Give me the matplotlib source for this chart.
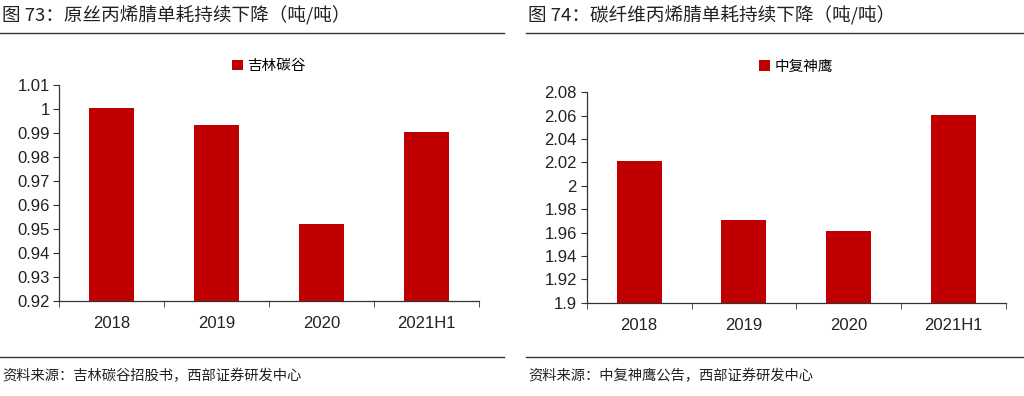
import matplotlib
matplotlib.use("Agg")
import matplotlib.pyplot as plt
from matplotlib.ticker import FuncFormatter, MultipleLocator, FixedLocator
from matplotlib.lines import Line2D

plt.rcParams['font.family'] = ['Liberation Sans', 'Noto Sans CJK SC', 'DejaVu Sans']

categories = ["2018", "2019", "2020", "2021H1"]
jilin_values = [1.0005, 0.9935, 0.952, 0.9905]
zhongfu_values = [2.021, 1.971, 1.961, 2.061]

left_title = "图 73：原丝丙烯腈单耗持续下降（吨/吨）"
right_title = "图 74：碳纤维丙烯腈单耗持续下降（吨/吨）"
left_series = "吉林碳谷"
right_series = "中复神鹰"
left_source = "资料来源：吉林碳谷招股书，西部证券研发中心"
right_source = "资料来源：中复神鹰公告，西部证券研发中心"

BAR = "#C00000"
W, H = 1024, 396
fig = plt.figure(figsize=(W / 100, H / 100), dpi=100)

def fx(px):
    return px / W

def fy(py):
    return 1 - py / H

def panel(rect, values, ylim, step, series, title, source, title_x, line_x0, line_x1, legend_y):
    ax = fig.add_axes(rect)
    x = range(len(categories))
    ax.bar(x, values, width=0.43, color=BAR, label=series, zorder=2)
    ax.set_ylim(*ylim)
    ax.set_xlim(-0.5, len(categories) - 0.5)
    ax.yaxis.set_major_locator(MultipleLocator(step))
    ax.yaxis.set_major_formatter(FuncFormatter(lambda v, p: f"{round(v, 4):g}"))
    ax.set_xticks(list(x))
    ax.set_xticklabels(categories)
    ax.xaxis.set_minor_locator(FixedLocator([i + 0.5 for i in range(-1, len(categories))]))
    ax.tick_params(axis='x', which='major', length=0, pad=11, labelsize=12, colors='#222222')
    ax.tick_params(axis='x', which='minor', length=4, direction='out', color='#333333')
    ax.tick_params(axis='y', length=4, direction='out', labelsize=12, color='#333333',
                   labelcolor='#222222', pad=3)
    for s in ('top', 'right'):
        ax.spines[s].set_visible(False)
    for s in ('left', 'bottom'):
        ax.spines[s].set_color('#333333')
        ax.spines[s].set_linewidth(0.9)
    ax.legend(loc='center', bbox_to_anchor=(0.5, legend_y), frameon=False,
              prop={'family': ['Noto Sans CJK SC'], 'size': 10.5},
              handlelength=0.75, handleheight=0.75, handletextpad=0.3)
    fig.text(fx(title_x), fy(15), title, fontsize=13.4, va='center', ha='left',
             family=['Noto Sans CJK SC', 'DejaVu Sans'], color='#222222')
    fig.add_artist(Line2D([fx(line_x0), fx(line_x1)], [fy(32.5), fy(32.5)],
                          color='#333333', lw=1.0))
    fig.add_artist(Line2D([fx(line_x0), fx(line_x1)], [fy(357), fy(357)],
                          color='#333333', lw=1.0))
    fig.text(fx(title_x), fy(376), source, fontsize=10.3, va='center', ha='left',
             family=['Noto Sans CJK SC', 'DejaVu Sans'], color='#222222')
    return ax

panel([fx(59.3), fy(300.7), fx(479 - 59.3), (300.7 - 85) / H],
      jilin_values, (0.92, 1.01), 0.01, left_series, left_title, left_source,
      2, 0, 504, 1.0 + (85 - 66) / 215.7)
panel([fx(586.7), fy(302.7), fx(1006 - 586.7), (302.7 - 92.3) / H],
      zhongfu_values, (1.9, 2.08), 0.02, right_series, right_title, right_source,
      528, 526, 1024, 1.0 + (92.3 - 66.7) / 210.4)

fig.savefig("out.png", dpi=100)
